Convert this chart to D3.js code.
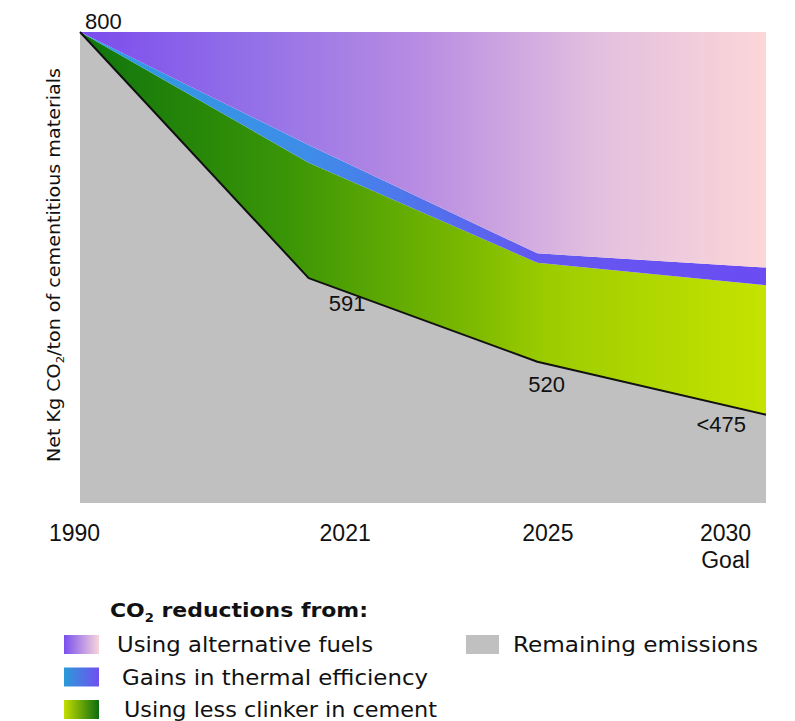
<!DOCTYPE html>
<html>
<head>
<meta charset="utf-8">
<script src="https://cdn.jsdelivr.net/npm/d3@7"></script>
<style>
  html, body { margin: 0; padding: 0; background: #fff; }
  svg { display: block; font-family: "Liberation Sans", Arial, sans-serif; }
</style>
</head>
<body>
<svg id="chart" width="795" height="721"></svg>
<script>
// Net kg CO2 per ton of cementitious materials, by milestone year
const years = ["1990", "2021", "2025", "2030"];
const remaining = [800, 591, 520, 475];          // remaining emissions
const lessClinker = [0, 98, 84, 110];            // reduction from using less clinker
const thermalEfficiency = [0, 15, 8, 15];        // reduction from thermal efficiency gains
const alternativeFuels = [0, 96, 188, 200];      // reduction from alternative fuels
const valueLabels = ["800", "591", "520", "<475"];
const tickLabels = [["1990"], ["2021"], ["2025"], ["2030", "Goal"]];
const legendItems = [
  "Using alternative fuels",
  "Gains in thermal efficiency",
  "Using less clinker in cement"
];
const remainingLabel = "Remaining emissions";

const svg = d3.select("#chart");
const plot = { left: 80, right: 766, top: 32, bottom: 503 };
const wideFont = "DejaVu Sans, Verdana, sans-serif";

const x = d3.scalePoint().domain(years).range([plot.left, plot.right]);
const y = d3.scaleLinear().domain([400, 800]).range([plot.bottom, plot.top]);

const rows = years.map((yr, i) => ({
  year: yr,
  remaining: remaining[i],
  clinker: lessClinker[i],
  thermal: thermalEfficiency[i],
  fuels: alternativeFuels[i]
}));
const keys = ["remaining", "clinker", "thermal", "fuels"];
const stacked = d3.stack().keys(keys)(rows);

// Gradients
const defs = svg.append("defs");
function hGradient(id, stops, userSpace) {
  const g = defs.append("linearGradient").attr("id", id)
    .attr("x1", userSpace ? plot.left : 0).attr("x2", userSpace ? plot.right : 1)
    .attr("y1", 0).attr("y2", 0);
  if (userSpace) g.attr("gradientUnits", "userSpaceOnUse");
  stops.forEach(([o, c]) => g.append("stop").attr("offset", o).attr("stop-color", c));
}
hGradient("gFuels", [[0, "#7b4ced"], [0.25, "#9370e8"], [0.5, "#b98de2"], [0.75, "#e2bfdf"], [1, "#fcd6d8"]], true);
hGradient("gThermal", [[0, "#2d9ce0"], [0.33, "#3e8de8"], [0.66, "#6359f0"], [1, "#6b4cf3"]], true);
hGradient("gClinker", [[0, "#0f740d"], [0.3, "#3a9506"], [0.58, "#7fbb00"], [0.68, "#9ccc00"], [1, "#c6e300"]], true);
hGradient("lgFuels", [[0, "#7a50ee"], [1, "#f8d4dc"]], false);
hGradient("lgThermal", [[0, "#2a9ad8"], [1, "#7150f0"]], false);
hGradient("lgClinker", [[0, "#c4de00"], [1, "#0c6c10"]], false);

const fills = { remaining: "#c0c0c0", clinker: "url(#gClinker)", thermal: "url(#gThermal)", fuels: "url(#gFuels)" };

const area = d3.area()
  .x(d => x(d.data.year))
  .y0(d => y(d[0]))
  .y1(d => y(d[1]));

// gray base runs down to the bottom of the plot
svg.append("g").selectAll("path")
  .data(stacked)
  .join("path")
  .attr("fill", s => fills[s.key])
  .attr("d", s => s.key === "remaining"
    ? d3.area().x(d => x(d.data.year)).y0(plot.bottom).y1(d => y(d[1]))(s)
    : area(s));

// outline of remaining emissions
svg.append("path")
  .datum(rows)
  .attr("fill", "none")
  .attr("stroke", "#111")
  .attr("stroke-width", 2)
  .attr("stroke-linejoin", "round")
  .attr("d", d3.line().x(d => x(d.year)).y(d => y(d.remaining)));

// value labels along the line
const labelNudge = [
  { dx: 5, dy: -3, anchor: "start" },
  { dx: 20, dy: 33, anchor: "start" },
  { dx: -9, dy: 30, anchor: "start" },
  { dx: -20, dy: 17, anchor: "end" }
];
svg.append("g").selectAll("text")
  .data(rows)
  .join("text")
  .attr("x", (d, i) => x(d.year) + labelNudge[i].dx)
  .attr("y", (d, i) => y(d.remaining) + labelNudge[i].dy)
  .attr("text-anchor", (d, i) => labelNudge[i].anchor)
  .attr("font-size", 22)
  .attr("fill", "#111")
  .text((d, i) => valueLabels[i]);

// x axis labels
const tickNudge = { "1990": -6, "2021": 36, "2025": 10, "2030": -41 };
const axis = svg.append("g")
  .attr("transform", `translate(0,${plot.bottom})`)
  .call(d3.axisBottom(x).tickSize(0).tickFormat(() => ""));
axis.select(".domain").remove();
axis.selectAll(".tick").each(function (yr, i) {
  const t = d3.select(this).select("text")
    .attr("y", 38)
    .attr("dy", 0)
    .attr("x", tickNudge[yr])
    .attr("font-size", 23)
    .attr("font-family", "Liberation Sans, Arial, sans-serif")
    .attr("fill", "#111");
  tickLabels[i].forEach((line, j) => {
    t.append("tspan").attr("x", tickNudge[yr]).attr("dy", j === 0 ? 0 : 27).text(line);
  });
});

// y axis title
const yt = svg.append("text")
  .attr("transform", "translate(60,265) rotate(-90)")
  .attr("text-anchor", "middle")
  .attr("font-family", wideFont)
  .attr("font-size", 18)
  .attr("textLength", 394)
  .attr("lengthAdjust", "spacingAndGlyphs")
  .attr("fill", "#111");
yt.append("tspan").text("Net Kg CO");
yt.append("tspan").attr("font-size", 11).attr("dy", 4).text("2");
yt.append("tspan").attr("dy", -4).text("/ton of cementitious materials");

// legend
const lg = svg.append("g").attr("font-family", wideFont);
const title = lg.append("text").attr("x", 110).attr("y", 617)
  .attr("font-size", 20).attr("font-weight", "bold").attr("fill", "#111")
  .attr("textLength", 258).attr("lengthAdjust", "spacingAndGlyphs");
title.append("tspan").text("CO");
title.append("tspan").attr("font-size", 12).attr("dy", 5).text("2");
title.append("tspan").attr("dy", -5).text(" reductions from:");

const swatches = ["url(#lgFuels)", "url(#lgThermal)", "url(#lgClinker)"];
const textX = [117, 122, 124];
const textW = [256, 306, 313];
legendItems.forEach((label, i) => {
  const top = 635 + i * 32.5;
  lg.append("rect").attr("x", 64).attr("y", top).attr("width", 35).attr("height", 19)
    .attr("fill", swatches[i]);
  lg.append("text").attr("x", textX[i]).attr("y", top + 17)
    .attr("font-size", 21).attr("fill", "#111")
    .attr("textLength", textW[i]).attr("lengthAdjust", "spacingAndGlyphs")
    .text(label);
});
lg.append("rect").attr("x", 466).attr("y", 635).attr("width", 33).attr("height", 19)
  .attr("fill", "#c0c0c0");
lg.append("text").attr("x", 513).attr("y", 652)
  .attr("font-size", 21).attr("fill", "#111")
  .attr("textLength", 245).attr("lengthAdjust", "spacingAndGlyphs")
  .text(remainingLabel);
</script>
</body>
</html>
